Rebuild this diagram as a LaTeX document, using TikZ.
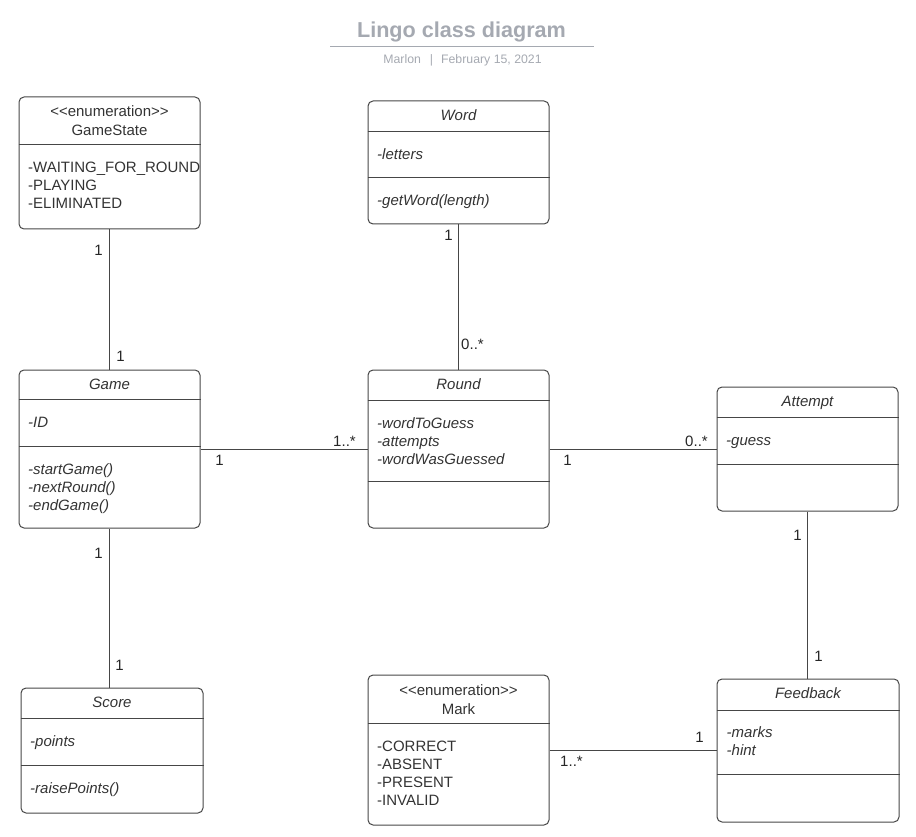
\documentclass[tikz,border=0pt]{standalone}
\usepackage{fontspec}
\setmainfont{Liberation Sans}
\definecolor{linegray}{RGB}{70,70,70}
\definecolor{textgray}{RGB}{51,51,51}
\definecolor{titlegray}{RGB}{165,169,177}
\newcommand{\umlfont}{\fontsize{15}{18}\selectfont}
\newcommand{\stereo}[1]{<\kern0pt<#1>\kern0pt>}
\begin{document}
\begin{tikzpicture}[x=1pt,y=-1pt,
    classbox/.style={draw=linegray,line width=1pt,rounded corners=5pt,inner sep=0pt,minimum width=181},
    divider/.style={draw=linegray,line width=1pt},
    cname/.style={anchor=north,align=center,inner sep=0pt,text=textgray,font=\umlfont},
    members/.style={anchor=north west,align=left,inner sep=0pt,text=textgray,font=\umlfont},
    mult/.style={inner sep=0pt,text=black!85,font=\umlfont},
    assoc/.style={draw=linegray,line width=1pt}]
    \useasboundingbox (0,0) rectangle (916,837);
    %% Title
    \node[anchor=base,inner sep=0pt,text=titlegray,font=\fontsize{21.6}{26}\selectfont\bfseries] (title) at (461.5,38) {Lingo class diagram};
    \draw[titlegray,line width=1.5pt] (330,46.5) -- (594,46.5);
    \node[anchor=base,inner sep=0pt,text=titlegray,font=\fontsize{12.3}{15}\selectfont] (subtitle) at (462.5,64) {Marlon\hspace{9pt}|\hspace{8pt}February 15, 2021};
    %% Classes
    \node[classbox,minimum height=132] (gamestate) at (109.5,163) {};
    \node[classbox,minimum height=123] (word) at (458.5,162.5) {};
    \node[classbox,minimum height=158] (game) at (109.5,449) {};
    \node[classbox,minimum height=158] (round) at (458.5,449) {};
    \node[classbox,minimum height=124] (attempt) at (807.5,449) {};
    \node[classbox,minimum height=125,minimum width=182] (score) at (112,750.5) {};
    \node[classbox,minimum height=150] (mark) at (458.5,750) {};
    \node[classbox,minimum height=143,minimum width=182] (feedback) at (808,750.5) {};
    %% Compartments
    \foreach \cls/\d in {gamestate/48,word/31,word/77,game/30,game/77,round/31,round/112,
                         attempt/31,attempt/78,score/31,score/78,mark/49,feedback/32,feedback/96}
        \draw[divider] ([yshift=-\d pt]\cls.north west) -- ([yshift=-\d pt]\cls.north east);
    %% Names
    \node[cname] (gamestatename) at ([shift={(0,7.5)}]gamestate.north) {\strut\stereo{enumeration}\\[1pt]GameState};
    \node[cname] (wordname) at ([shift={(0,7.5)}]word.north) {\strut\itshape Word};
    \node[cname] (gamename) at ([shift={(0,7.5)}]game.north) {\strut\itshape Game};
    \node[cname] (roundname) at ([shift={(0,7.5)}]round.north) {\strut\itshape Round};
    \node[cname] (attemptname) at ([shift={(0,7.5)}]attempt.north) {\strut\itshape Attempt};
    \node[cname] (scorename) at ([shift={(0,7.5)}]score.north) {\strut\itshape Score};
    \node[cname] (markname) at ([shift={(0,8)}]mark.north) {\strut\stereo{enumeration}\\[1pt]Mark};
    \node[cname] (feedbackname) at ([shift={(0,7.5)}]feedback.north) {\strut\itshape Feedback};
    %% Members
    \node[members] (gamestatevals) at ([shift={(9.5,63.5)}]gamestate.north west) {\strut-WAITING\_FOR\_ROUND\\-PLAYING\\-ELIMINATED};
    \node[members] (wordattrs) at ([shift={(9.5,46)}]word.north west) {\strut\itshape -letters};
    \node[members] (wordops) at ([shift={(9.5,92.4)}]word.north west) {\strut\itshape -getWord(length)};
    \node[members] (gameattrs) at ([shift={(9.5,45.4)}]game.north west) {\strut\itshape -ID};
    \node[members] (gameops) at ([shift={(9.5,92.4)}]game.north west) {\strut\itshape -startGame()\\\itshape -nextRound()\\\itshape -endGame()};
    \node[members] (roundattrs) at ([shift={(9.5,46.4)}]round.north west) {\strut\itshape -wordToGuess\\\itshape -attempts\\\itshape -wordWasGuessed};
    \node[members] (attemptattrs) at ([shift={(9.5,46.4)}]attempt.north west) {\strut\itshape -guess};
    \node[members] (scoreattrs) at ([shift={(9.5,46.4)}]score.north west) {\strut\itshape -points};
    \node[members] (scoreops) at ([shift={(9.5,93.4)}]score.north west) {\strut\itshape -raisePoints()};
    \node[members] (markvals) at ([shift={(9.5,64.4)}]mark.north west) {\strut-CORRECT\\-ABSENT\\-PRESENT\\-INVALID};
    \node[members] (feedbackattrs) at ([shift={(10,46)}]feedback.north west) {\strut\itshape -marks\\\itshape -hint};
    %% Associations
    \draw[assoc] (gamestate) -- (game)
        node[mult,at start,shift={(-11,21)}] (gs1) {1}
        node[mult,at end,shift={(11,-13)}] (gs2) {1};
    \draw[assoc] (word) -- (round)
        node[mult,at start,shift={(-10,11)}] (wr1) {1}
        node[mult,at end,shift={(14,-25)}] (wr2) {0..*};
    \draw[assoc] (game) -- (round)
        node[mult,at start,shift={(19,11)}] (gr1) {1}
        node[mult,at end,shift={(-23,-8)}] (gr2) {1..*};
    \draw[assoc] (round) -- (attempt)
        node[mult,at start,shift={(18,11)}] (ra1) {1}
        node[mult,at end,shift={(-20,-8)}] (ra2) {0..*};
    \draw[assoc] (attempt.south) -- (attempt.south |- feedback.north)
        node[mult,at start,shift={(-10,24)}] (af1) {1}
        node[mult,at end,shift={(11,-22)}] (af2) {1};
    \draw[assoc] (game.south) -- (game.south |- score.north)
        node[mult,at start,shift={(-11,25)}] (gs3) {1}
        node[mult,at end,shift={(10,-22)}] (gs4) {1};
    \draw[assoc] (mark.east) -- (mark.east -| feedback.west)
        node[mult,at start,shift={(22,11)}] (mf1) {1..*}
        node[mult,at end,shift={(-17,-13)}] (mf2) {1};
\end{tikzpicture}
\end{document}
